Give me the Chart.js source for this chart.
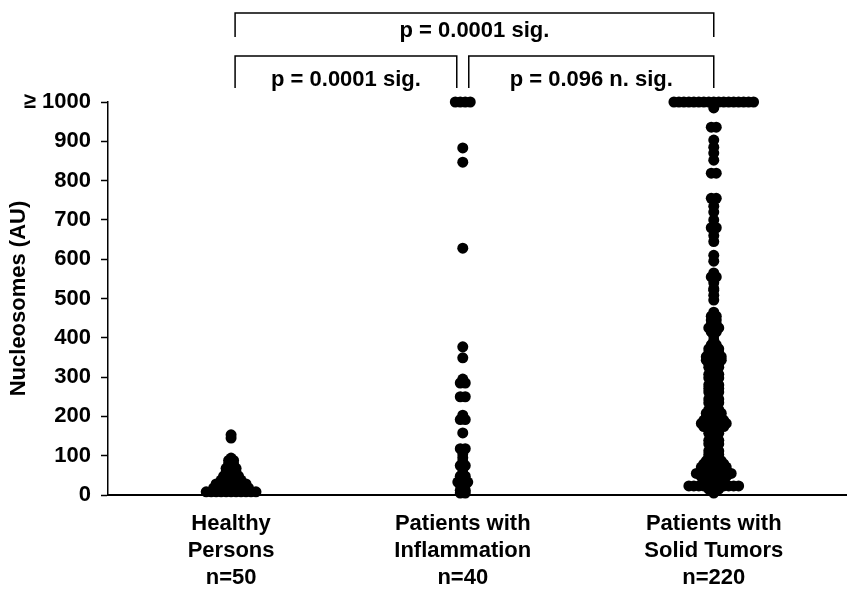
<!DOCTYPE html>
<html><head><meta charset="utf-8">
<script src="https://cdn.jsdelivr.net/npm/chart.js@4.4.0/dist/chart.umd.min.js"></script>
<style>html,body{margin:0;padding:0;background:#fff}</style>
</head><body>
<canvas id="c" width="852" height="595"></canvas>
<script>
// ---------- data ----------
const categories = [
  ['Healthy', 'Persons', 'n=50'],
  ['Patients with', 'Inflammation', 'n=40'],
  ['Patients with', 'Solid Tumors', 'n=220']
];
const healthy = [
  8,8,8,8,8,8,8,8,8,8,8,
  18,18,18,18,18,18,18,18,
  28,28,28,28,28,28,28,
  33,
  38,38,38,38,38,
  43,
  48,48,48,48,
  58,58,58,
  68,68,68,
  78,78,
  88,88,
  94,
  145,153
];
const inflammation = [
  1000,1000,1000,1000,
  883,847,628,
  377,349,
  285,285,295,
  250,250,
  192,192,203,
  158,
  118,118,105,95,85,75,75,65,55,48,48,40,33,33,33,25,25,18,12,12,5,5
];
const solidTumors = [
  1000,1000,1000,1000,1000,1000,1000,1000,1000,1000,1000,1000,1000,1000,1000,1000,1000,
  985, 936,936, 903, 885,870,852, 819,819,
  755,755,735,720, 700,680,680,660,645, 610,595,
  565,555,555,540,525,
  521,508,496, 465, 455,455, 445,445, 435,435, 425,425,425, 415,415, 405, 394,
  382,382, 372,372,372, 362,362,362, 352,352,352,352, 343,343,343,343,
  334,334,334, 325,325,325, 316,316, 307,307,307, 298,298,298, 289,289,
  280,280,280, 271,271,271, 262,262,262, 253,253, 244,244,244, 235,235,235,
  226,226, 217,217,217, 208,208,208,208, 199,199,199,199, 190,190,190,190,190,
  182,182,182,182,182,182, 174,174,174,174,174, 166,166,166, 157,157,157, 148,148,
  139,139,139, 130,130,130, 121,121, 112,112,112, 103,103,103, 95,95,95,
  87,87,87,87, 79,79,79,79,79, 71,71,71,71,71,71, 63,63,63,63,63,63,
  55,55,55,55,55,55,55,55, 47,47,47,47,47,47, 39,39,39, 31,31,31,31,31,
  23,23,23,23,23,23,23,23,23,23,23, 15,15,15, 5
];
const yTicks = [0,100,200,300,400,500,600,700,800,900,1000];
const comparisons = [
  {from: 0, to: 2, text: 'p = 0.0001 sig.'},
  {from: 0, to: 1, text: 'p = 0.0001 sig.'},
  {from: 1, to: 2, text: 'p = 0.096 n. sig.'}
];

// ---------- layout ----------
const FONT = '"Liberation Sans", Arial, Helvetica, sans-serif';
const FS = 22;
const groupX = [1, 1.96, 3];
const X_MIN = 0.49, X_MAX = 3.55;
const AXIS_LEFT = 108, PAD_RIGHT = 2, W = 852, H = 595;
const STEP_PX = 5;

function swarm(values, cx) {
  const unit = STEP_PX * (X_MAX - X_MIN) / (W - PAD_RIGHT - AXIS_LEFT);
  const counts = {};
  values.forEach(v => counts[v] = (counts[v] || 0) + 1);
  const seen = {};
  return values.map(v => {
    const n = counts[v];
    const i = seen[v] = (seen[v] === undefined ? 0 : seen[v] + 1);
    return {x: cx + (i - (n - 1) / 2) * unit, y: v};
  });
}

const brackets = {
  id: 'brackets',
  afterDraw(chart) {
    const {ctx, scales: {x}} = chart;
    const px = i => x.getPixelForValue(groupX[i]);
    ctx.save();
    ctx.strokeStyle = '#000';
    ctx.fillStyle = '#000';
    ctx.lineWidth = 1.5;
    ctx.font = 'bold ' + FS + 'px ' + FONT;
    ctx.textAlign = 'center';
    ctx.textBaseline = 'middle';
    const rows = [{top: 13, leg: 37, textY: 31}, {top: 56, leg: 88, textY: 80}];
    comparisons.forEach((c, k) => {
      const row = rows[k === 0 ? 0 : 1];
      let x1 = px(c.from) + (c.from === 0 ? 4 : 0), x2 = px(c.to);
      if (k > 0) { if (c.to === 1) x2 -= 6; if (c.from === 1) x1 += 6; }
      ctx.beginPath();
      ctx.moveTo(x1, row.leg);
      ctx.lineTo(x1, row.top);
      ctx.lineTo(x2, row.top);
      ctx.lineTo(x2, row.leg);
      ctx.stroke();
      ctx.fillText(c.text, (x1 + x2) / 2, row.textY);
    });
    ctx.restore();
  }
};

Chart.defaults.font.family = FONT;

new Chart(document.getElementById('c'), {
  type: 'scatter',
  data: {
    datasets: [healthy, inflammation, solidTumors].map((vals, g) => ({
      data: swarm(vals, groupX[g]),
      pointRadius: 5.5,
      pointHoverRadius: 5.5,
      backgroundColor: '#000',
      borderWidth: 0,
      clip: false
    }))
  },
  options: {
    responsive: false,
    animation: false,
    layout: {padding: {top: 102, right: PAD_RIGHT, left: 0, bottom: 0}},
    plugins: {legend: {display: false}, tooltip: {enabled: false}},
    scales: {
      x: {
        type: 'linear', min: X_MIN, max: X_MAX,
        afterBuildTicks: s => { s.ticks = groupX.map(v => ({value: v})); },
        afterFit: s => { s.height = 100; },
        grid: {display: false, drawTicks: false},
        border: {display: true, color: '#000', width: 2},
        ticks: {
          padding: 16, color: '#000', maxRotation: 0, autoSkip: false,
          font: {size: FS, weight: 'bold', lineHeight: 1.22},
          callback: (v, i) => categories[i]
        }
      },
      y: {
        min: 0, max: 1000,
        afterBuildTicks: s => { s.ticks = yTicks.map(v => ({value: v})); },
        afterFit: s => { s.width = AXIS_LEFT; },
        grid: {drawOnChartArea: false, drawTicks: true, tickLength: 7, tickColor: '#000', tickWidth: 1.5},
        border: {color: '#000', width: 1.5},
        ticks: {
          padding: 10, color: '#000',
          font: {size: FS, weight: 'bold'},
          callback: v => v === 1000 ? '\u2265 1000' : String(v)
        },
        title: {
          display: true, text: 'Nucleosomes (AU)', color: '#000',
          font: {size: FS, weight: 'bold'}, padding: {top: 6, bottom: 0}
        }
      }
    }
  },
  plugins: [brackets]
});
</script>
</body></html>
